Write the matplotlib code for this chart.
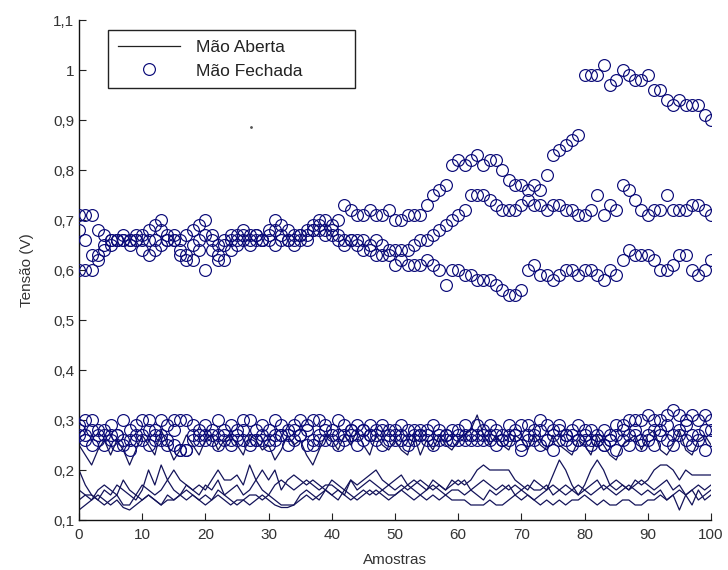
import matplotlib
matplotlib.use("Agg")
import matplotlib.pyplot as plt
import numpy as np

plt.rcParams['font.family'] = ['Liberation Sans', 'DejaVu Sans']

amostras = np.arange(0, 101)

# ---- Mão Fechada (circles) ----
fechada_a = [0.71,0.71,0.71,0.68,0.67,0.66,0.66,0.67,0.66,0.66,
             0.67,0.68,0.69,0.68,0.66,0.67,0.66,0.67,0.68,0.69,
             0.67,0.66,0.65,0.66,0.67,0.67,0.68,0.67,0.67,0.66,
             0.67,0.68,0.69,0.68,0.67,0.67,0.68,0.69,0.70,0.70,
             0.69,0.70,0.73,0.72,0.71,0.71,0.72,0.71,0.71,0.72,
             0.70,0.70,0.71,0.71,0.71,0.73,0.75,0.76,0.77,0.81,
             0.82,0.81,0.82,0.83,0.81,0.82,0.82,0.80,0.78,0.77,
             0.77,0.76,0.77,0.76,0.79,0.83,0.84,0.85,0.86,0.87,
             0.99,0.99,0.99,1.01,0.97,0.98,1.00,0.99,0.98,0.98,
             0.99,0.96,0.96,0.94,0.93,0.94,0.93,0.93,0.93,0.91,0.90]
fechada_b = [0.60,0.60,0.60,0.62,0.64,0.65,0.66,0.66,0.66,0.67,
             0.66,0.66,0.64,0.65,0.66,0.66,0.64,0.63,0.65,0.66,
             0.60,0.64,0.63,0.62,0.64,0.65,0.66,0.66,0.67,0.66,
             0.66,0.65,0.66,0.66,0.66,0.67,0.66,0.68,0.68,0.67,
             0.67,0.67,0.66,0.66,0.66,0.66,0.65,0.66,0.65,0.64,
             0.64,0.64,0.64,0.65,0.66,0.66,0.67,0.68,0.69,0.70,
             0.71,0.72,0.75,0.75,0.75,0.74,0.73,0.72,0.72,0.72,
             0.73,0.74,0.73,0.73,0.72,0.73,0.73,0.72,0.72,0.71,
             0.71,0.72,0.75,0.71,0.73,0.72,0.77,0.76,0.74,0.72,
             0.71,0.72,0.72,0.75,0.72,0.72,0.72,0.73,0.73,0.72,0.71]
fechada_c = [0.68,0.66,0.63,0.63,0.65,0.66,0.66,0.66,0.65,0.66,
             0.64,0.63,0.66,0.70,0.67,0.66,0.63,0.62,0.62,0.64,
             0.70,0.67,0.62,0.65,0.66,0.66,0.67,0.65,0.66,0.66,
             0.68,0.70,0.67,0.66,0.65,0.66,0.67,0.68,0.69,0.68,
             0.68,0.66,0.65,0.66,0.65,0.64,0.64,0.63,0.63,0.63,
             0.61,0.62,0.61,0.61,0.61,0.62,0.61,0.60,0.57,0.60,
             0.60,0.59,0.59,0.58,0.58,0.58,0.57,0.56,0.55,0.55,
             0.56,0.60,0.61,0.59,0.59,0.58,0.59,0.60,0.60,0.59,
             0.60,0.60,0.59,0.58,0.60,0.59,0.62,0.64,0.63,0.63,
             0.63,0.62,0.60,0.60,0.61,0.63,0.63,0.60,0.59,0.60,0.62]
fechada_d = [0.29,0.30,0.30,0.28,0.27,0.29,0.27,0.30,0.28,0.29,
             0.30,0.30,0.28,0.30,0.29,0.30,0.30,0.30,0.29,0.28,
             0.29,0.28,0.30,0.27,0.29,0.28,0.30,0.30,0.28,0.29,
             0.28,0.30,0.29,0.28,0.29,0.30,0.29,0.30,0.30,0.29,
             0.28,0.30,0.29,0.28,0.29,0.28,0.29,0.28,0.29,0.28,
             0.28,0.29,0.28,0.27,0.28,0.28,0.29,0.28,0.27,0.28,
             0.28,0.29,0.27,0.29,0.28,0.29,0.28,0.27,0.29,0.28,
             0.29,0.29,0.28,0.30,0.29,0.28,0.29,0.27,0.28,0.29,
             0.28,0.28,0.27,0.28,0.27,0.29,0.29,0.30,0.30,0.30,
             0.31,0.30,0.30,0.31,0.32,0.31,0.30,0.31,0.30,0.31,0.30]
fechada_e = [0.28,0.27,0.28,0.26,0.28,0.27,0.25,0.26,0.26,0.27,
             0.27,0.28,0.26,0.27,0.26,0.28,0.24,0.24,0.27,0.26,
             0.27,0.26,0.27,0.28,0.26,0.27,0.28,0.26,0.26,0.27,
             0.26,0.27,0.27,0.27,0.28,0.27,0.28,0.26,0.27,0.28,
             0.27,0.27,0.27,0.28,0.27,0.28,0.27,0.27,0.28,0.27,
             0.26,0.27,0.26,0.28,0.27,0.27,0.26,0.27,0.26,0.26,
             0.26,0.27,0.26,0.27,0.26,0.27,0.27,0.26,0.27,0.27,
             0.25,0.27,0.27,0.28,0.26,0.27,0.28,0.27,0.27,0.26,
             0.27,0.26,0.26,0.25,0.26,0.27,0.28,0.27,0.28,0.26,
             0.27,0.28,0.28,0.29,0.27,0.28,0.29,0.27,0.27,0.28,0.28]
fechada_f = [0.27,0.26,0.25,0.27,0.25,0.26,0.27,0.25,0.24,0.26,
             0.26,0.25,0.27,0.26,0.25,0.25,0.24,0.24,0.26,0.27,
             0.26,0.27,0.25,0.26,0.25,0.26,0.26,0.25,0.26,0.26,
             0.25,0.26,0.27,0.25,0.26,0.27,0.25,0.25,0.26,0.26,
             0.26,0.25,0.26,0.27,0.25,0.26,0.27,0.26,0.25,0.26,
             0.27,0.26,0.25,0.26,0.27,0.26,0.25,0.26,0.27,0.26,
             0.27,0.26,0.27,0.26,0.27,0.26,0.25,0.26,0.26,0.27,
             0.24,0.26,0.26,0.25,0.26,0.24,0.26,0.26,0.25,0.26,
             0.26,0.25,0.26,0.25,0.26,0.24,0.26,0.25,0.27,0.25,
             0.26,0.25,0.27,0.26,0.25,0.27,0.26,0.25,0.26,0.24,0.26]

# ---- Mão Aberta (lines) ----
aberta_1 = [0.25,0.23,0.21,0.24,0.26,0.23,0.26,0.24,0.21,0.24,
            0.27,0.25,0.23,0.28,0.25,0.22,0.24,0.27,0.25,0.23,
            0.26,0.27,0.24,0.26,0.27,0.25,0.23,0.27,0.26,0.24,
            0.25,0.22,0.24,0.27,0.25,0.26,0.23,0.21,0.24,0.27,
            0.26,0.24,0.27,0.25,0.28,0.25,0.23,0.27,0.25,0.24,
            0.26,0.24,0.23,0.27,0.23,0.26,0.24,0.27,0.25,0.24,
            0.26,0.27,0.28,0.31,0.27,0.25,0.27,0.25,0.24,0.27,
            0.26,0.24,0.27,0.25,0.24,0.27,0.25,0.24,0.23,0.26,
            0.25,0.23,0.27,0.25,0.23,0.22,0.25,0.26,0.27,0.24,
            0.27,0.28,0.24,0.23,0.25,0.28,0.24,0.23,0.26,0.27,0.25]
aberta_2 = [0.20,0.17,0.15,0.14,0.16,0.15,0.17,0.16,0.15,0.14,
            0.16,0.20,0.17,0.21,0.18,0.20,0.18,0.17,0.16,0.17,
            0.16,0.18,0.20,0.18,0.18,0.19,0.17,0.21,0.18,0.20,
            0.18,0.20,0.16,0.18,0.19,0.18,0.17,0.18,0.17,0.16,
            0.18,0.17,0.16,0.18,0.17,0.18,0.19,0.20,0.18,0.17,
            0.18,0.19,0.17,0.18,0.17,0.16,0.18,0.17,0.16,0.17,
            0.18,0.17,0.18,0.20,0.21,0.20,0.20,0.20,0.20,0.18,
            0.17,0.16,0.18,0.17,0.16,0.19,0.22,0.20,0.17,0.15,
            0.17,0.20,0.22,0.20,0.17,0.18,0.17,0.16,0.18,0.17,
            0.18,0.20,0.21,0.21,0.20,0.18,0.20,0.19,0.19,0.19,0.19]
aberta_3 = [0.16,0.15,0.14,0.16,0.17,0.16,0.15,0.18,0.16,0.15,
            0.17,0.16,0.15,0.16,0.18,0.16,0.15,0.17,0.16,0.15,
            0.17,0.16,0.18,0.15,0.16,0.17,0.15,0.16,0.18,0.16,
            0.15,0.17,0.18,0.17,0.16,0.17,0.18,0.17,0.16,0.17,
            0.17,0.16,0.15,0.18,0.16,0.17,0.18,0.17,0.16,0.17,
            0.16,0.17,0.16,0.17,0.18,0.17,0.16,0.17,0.16,0.18,
            0.17,0.18,0.16,0.17,0.18,0.17,0.16,0.17,0.16,0.17,
            0.16,0.17,0.16,0.16,0.17,0.15,0.16,0.17,0.16,0.17,
            0.16,0.17,0.18,0.16,0.17,0.16,0.17,0.16,0.17,0.18,
            0.17,0.16,0.17,0.18,0.16,0.17,0.15,0.16,0.17,0.16,0.17]
aberta_4 = [0.14,0.15,0.15,0.14,0.13,0.14,0.15,0.13,0.13,0.15,
            0.14,0.15,0.14,0.13,0.15,0.14,0.15,0.16,0.15,0.14,
            0.15,0.14,0.16,0.15,0.14,0.13,0.14,0.15,0.15,0.14,
            0.15,0.14,0.13,0.13,0.13,0.15,0.16,0.15,0.14,0.16,
            0.15,0.14,0.16,0.15,0.14,0.15,0.16,0.15,0.16,0.15,
            0.15,0.16,0.17,0.16,0.15,0.16,0.17,0.16,0.15,0.16,
            0.16,0.15,0.16,0.15,0.14,0.16,0.15,0.16,0.17,0.15,
            0.16,0.15,0.14,0.15,0.16,0.17,0.16,0.15,0.16,0.15,
            0.16,0.15,0.16,0.17,0.16,0.15,0.16,0.17,0.16,0.15,
            0.16,0.15,0.16,0.14,0.15,0.16,0.15,0.16,0.14,0.15,0.16]
aberta_5 = [0.12,0.13,0.14,0.15,0.14,0.13,0.14,0.125,0.12,0.13,
            0.14,0.15,0.14,0.13,0.14,0.14,0.15,0.14,0.15,0.14,
            0.13,0.14,0.15,0.14,0.13,0.14,0.14,0.13,0.14,0.15,
            0.14,0.13,0.125,0.125,0.13,0.14,0.15,0.14,0.15,0.16,
            0.15,0.16,0.15,0.14,0.15,0.16,0.15,0.16,0.15,0.14,
            0.15,0.16,0.15,0.14,0.15,0.14,0.15,0.14,0.15,0.14,
            0.14,0.14,0.13,0.13,0.13,0.14,0.13,0.13,0.14,0.15,
            0.14,0.15,0.14,0.13,0.14,0.13,0.14,0.13,0.14,0.14,
            0.15,0.14,0.13,0.14,0.13,0.13,0.14,0.14,0.13,0.13,
            0.14,0.14,0.15,0.14,0.15,0.12,0.15,0.13,0.16,0.14,0.15]

stray_x = [27.2]
stray_y = [0.886]

y_ticks = [0.1, 0.2, 0.3, 0.4, 0.5, 0.6, 0.7, 0.8, 0.9, 1.0, 1.1]
y_tick_labels = ["0,1", "0,2", "0,3", "0,4", "0,5", "0,6", "0,7", "0,8", "0,9", "1", "1,1"]
x_ticks = [0, 10, 20, 30, 40, 50, 60, 70, 80, 90, 100]

line_color = "#14145a"
marker_color = "#0a0a78"

fig = plt.figure(figsize=(7.28, 5.70), dpi=100)
ax = fig.add_axes([79 / 728, 50 / 570, 632 / 728, 500 / 570])

lines_aberta = [aberta_1, aberta_2, aberta_3, aberta_4, aberta_5]
circles_fechada = [fechada_a, fechada_b, fechada_c, fechada_d, fechada_e, fechada_f]

for i, s in enumerate(lines_aberta):
    ax.plot(amostras, s, '-', color=line_color, lw=0.9,
            label="Mão Aberta" if i == 0 else None, zorder=2)
for i, s in enumerate(circles_fechada):
    ax.plot(amostras, s, 'o', mfc='none', mec=marker_color, ms=8.5, mew=0.85,
            label="Mão Fechada" if i == 0 else None, zorder=3)
ax.plot(stray_x, stray_y, '.', color='#555555', ms=2)

ax.set_xlim(0, 100)
ax.set_ylim(0.1, 1.1)
ax.set_xticks(x_ticks)
ax.set_yticks(y_ticks)
ax.set_yticklabels(y_tick_labels)
ax.tick_params(direction='in', length=5, width=0.8, labelsize=11, colors='#222222',
               labelcolor='#333333')
ax.tick_params(axis='x', pad=6)
ax.spines['top'].set_visible(False)
ax.spines['right'].set_visible(False)
for sp in ['left', 'bottom']:
    ax.spines[sp].set_linewidth(1.0)
    ax.spines[sp].set_color('#111111')

ax.set_xlabel("Amostras", fontsize=11, color='#333333', labelpad=8)
ax.set_ylabel("Tensão (V)", fontsize=11, color='#333333', labelpad=14)

leg = ax.legend(loc='upper left', bbox_to_anchor=(0.046, 0.0, 0.39, 0.98),
                mode='expand', frameon=True, fancybox=False, framealpha=1,
                edgecolor='#222222', fontsize=12.5, handlelength=3.6,
                handletextpad=0.9, borderpad=0.55, labelspacing=0.5,
                borderaxespad=0)
leg.get_frame().set_linewidth(1.0)
for t in leg.get_texts():
    t.set_color('#222222')
leg.get_lines()[0].set_color('#222222')

fig.savefig("out.png", dpi=100)
